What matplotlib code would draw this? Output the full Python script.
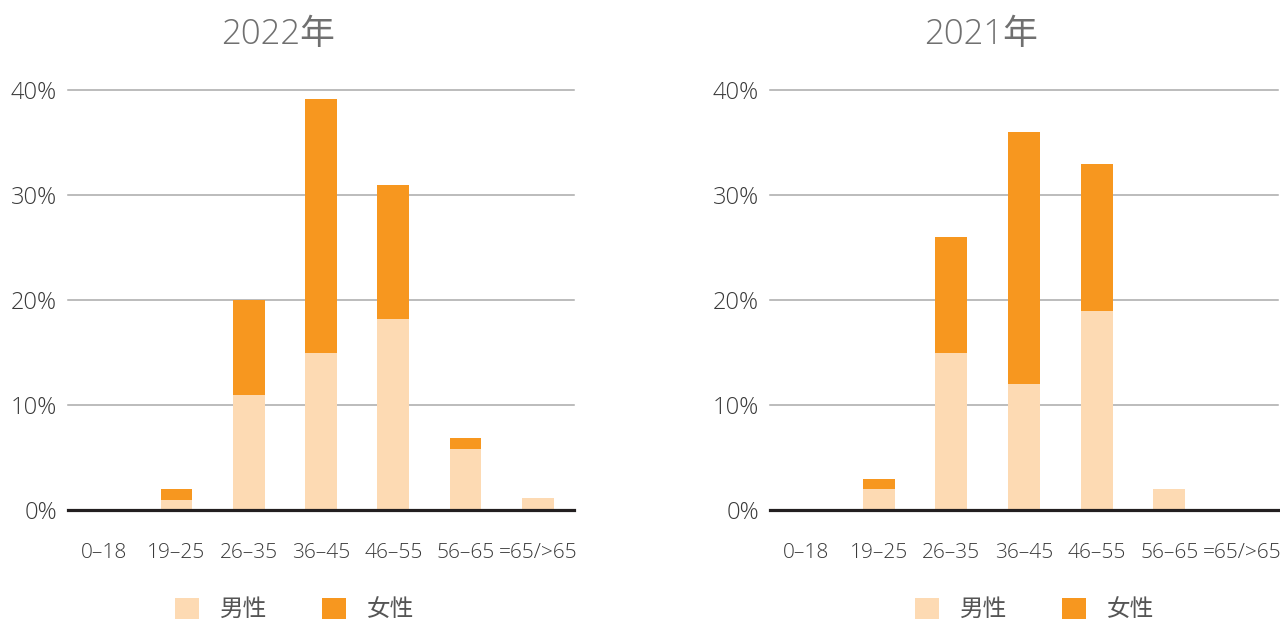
import matplotlib
matplotlib.use("Agg")
import matplotlib.pyplot as plt
from matplotlib.patches import Patch
import numpy as np

plt.rcParams['font.family'] = ['Open Sans', 'Noto Sans CJK SC', 'DejaVu Sans']

categories = ["0–18", "19–25", "26–35", "36–45", "46–55", "56–65", "=65/>65"]
male_2022 = [0, 1, 11, 15, 18.2, 5.8, 1.1]
female_2022 = [0, 1, 9, 24.1, 12.8, 1.1, 0]
male_2021 = [0, 2, 15, 12, 19, 2, 0]
female_2021 = [0, 1, 11, 24, 14, 0, 0]
titles = ["2022年", "2021年"]
legend_labels = ["男性", "女性"]
yticks = [0, 10, 20, 30, 40]
ytick_labels = ["0%", "10%", "20%", "30%", "40%"]

c_male = "#FDDAB3"
c_female = "#F7971F"

W, H = 1280, 622
fig = plt.figure(figsize=(W / 100, H / 100), dpi=100)

panels = [
    (68, 574, male_2022, female_2022, titles[0], 175),
    (770, 1278, male_2021, female_2021, titles[1], 915),
]

for x0, x1, male, female, title, leg_x in panels:
    ax = fig.add_axes([x0 / W, 1 - 510 / H, (x1 - x0) / W, 420 / H])
    x = np.arange(len(categories))
    for yv in yticks:
        ax.axhline(yv, color="#aaaaaa", lw=1.1, zorder=1, clip_on=False)
    ax.bar(x, male, width=0.44, color=c_male, zorder=2)
    ax.bar(x, female, width=0.44, bottom=male, color=c_female, zorder=2)
    ax.axhline(0, color="#231f20", lw=2.3, zorder=3, clip_on=False)
    ax.set_xlim(-0.5, len(categories) - 0.5)
    ax.set_ylim(0, 40)
    ax.set_xticks(x)
    ax.set_xticklabels(categories, fontsize=15, color="#3a3a3a", fontweight="light")
    ax.set_yticks(yticks)
    ax.set_yticklabels(ytick_labels, fontsize=17, color="#3a3a3a", fontweight="light")
    ax.tick_params(axis="x", length=0, pad=24)
    ax.tick_params(axis="y", length=0, pad=8)
    for s in ax.spines.values():
        s.set_visible(False)
    ax.set_title(title, fontsize=25, color="#707070", x=0.415, pad=33, fontweight="light")
    handles = [Patch(facecolor=c_male, edgecolor="none"),
               Patch(facecolor=c_female, edgecolor="none")]
    fig.legend(handles, legend_labels, loc="center left",
               bbox_to_anchor=(leg_x / W, 1 - 610 / H), ncol=2, frameon=False,
               fontsize=17, handlelength=1.0, handleheight=1.0,
               handletextpad=0.89, columnspacing=2.33, borderpad=0,
               borderaxespad=0, labelcolor="#555555")

fig.savefig("out.png", dpi=100)
